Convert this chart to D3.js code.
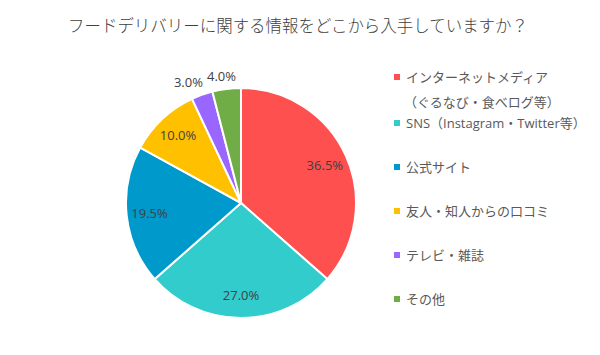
<!DOCTYPE html>
<html><head><meta charset="utf-8">
<script src="https://cdn.jsdelivr.net/npm/d3@7"></script>
<style>body{margin:0;background:#fff;}svg{display:block;}</style>
</head><body><svg id="c" width="600" height="355"></svg>
<script>
const categories = ["インターネットメディア\n（ぐるなび・食べログ等）","SNS（Instagram・Twitter等）","公式サイト","友人・知人からの口コミ","テレビ・雑誌","その他"];
const values = [36.5, 27.0, 19.5, 10.0, 3.0, 4.0];
const colors = ["#FF5050","#33CCCC","#0099CC","#FFC000","#9966FF","#70AD47"];
const title = "フードデリバリーに関する情報をどこから入手していますか？";

const svg = d3.select("#c");
svg.append("rect").attr("width",600).attr("height",355).attr("fill","#fff");
svg.append("text").attr("x",298).attr("y",32).attr("text-anchor","middle")
  .attr("font-family","'Noto Sans CJK JP'").attr("font-weight",300).attr("font-size",17)
  .attr("textLength",460).attr("lengthAdjust","spacingAndGlyphs")
  .attr("fill","#404040").text(title);

const cx=241, cy=203, r=115;
const g = svg.append("g").attr("transform",`translate(${cx},${cy})`);
const pie = d3.pie().sort(null).value(d=>d);
const arcs = pie(values);
const arc = d3.arc().innerRadius(0).outerRadius(r);
g.selectAll("path").data(arcs).join("path").attr("d",arc)
  .attr("fill",(d,i)=>colors[i]).attr("stroke","#fff").attr("stroke-width",2);

function labelPos(d){
  const a=(d.startAngle+d.endAngle)/2;
  if(d.value<5){ return [Math.sin(a)*r*1.35, -Math.cos(a)*r*1.11]; }
  const R = r*0.8;
  return [Math.sin(a)*R, -Math.cos(a)*R];
}
g.selectAll("text.l").data(arcs).join("text").attr("class","l")
  .attr("transform",d=>`translate(${labelPos(d)})`)
  .attr("text-anchor","middle").attr("dy","0.35em")
  .attr("font-family","'Open Sans'").attr("font-size",13).attr("fill","#404040")
  .text(d=>d.value.toFixed(1)+"%");

const legY = [77,123,167,211,255,299];
const lg = svg.append("g");
categories.forEach((c,i)=>{
  lg.append("rect").attr("x",394).attr("y",legY[i]-3).attr("width",6).attr("height",6).attr("fill",colors[i]);
  const lines=c.split("\n");
  lines.forEach((t,j)=>{
    lg.append("text").attr("x",406 + (j>0?-2:0)).attr("y",legY[i]+ j*25).attr("dy","0.35em")
      .attr("font-family","'Open Sans','Noto Sans CJK JP'").attr("font-size",13).attr("fill","#595959").text(t);
  });
});
</script></body></html>
